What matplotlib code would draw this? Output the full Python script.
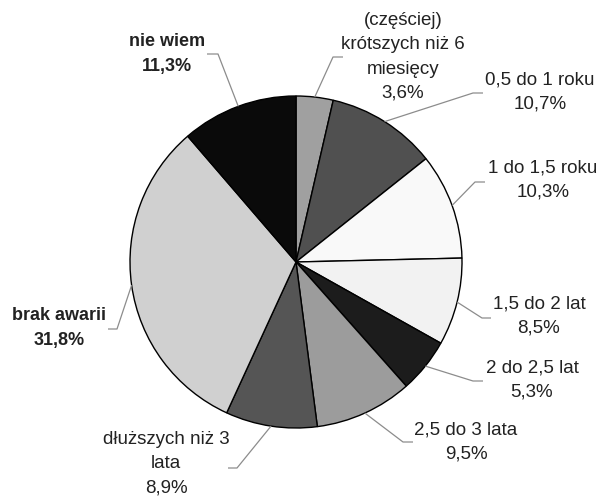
import numpy as np
import matplotlib.pyplot as plt

# udział poszczególnych odpowiedzi (%)
labels = ['(częściej)\nkrótszych niż 6\nmiesięcy', '0,5 do 1 roku', '1 do 1,5 roku',
          '1,5 do 2 lat', '2 do 2,5 lat', '2,5 do 3 lata', 'dłuższych niż 3\nlata',
          'brak awarii', 'nie wiem']
values = [3.6, 10.7, 10.3, 8.5, 5.3, 9.5, 8.9, 31.8, 11.3]
colors = ['#a0a0a0', '#505050', '#f9f9f9', '#f2f2f2', '#1c1c1c', '#9c9c9c',
          '#555555', '#d0d0d0', '#0a0a0a']
bold = [False, False, False, False, False, False, False, True, True]

# położenie podpisów w pikselach: środek tekstu, załamanie linii, koniec linii
text_xy = [(403, 57), (540, 92), (543, 180), (539, 316), (532, 380),
           (466, 442), (166, 464), (59, 328), (167, 54)]
knee_xy = [(333, 57), (473, 93), (475, 182), (482, 318), (473, 381),
           (403, 442), (237, 468), (117, 329), (218, 54)]
end_x = [343, 483, 485, 491, 483, 413, 228, 108, 207]

W, H = 598, 498
cx, cy, R = 296, 262, 166

plt.rcParams['font.family'] = ['Liberation Sans', 'DejaVu Sans']
fig = plt.figure(figsize=(W / 100, H / 100), dpi=100)
ax = fig.add_axes([0, 0, 1, 1])

wedges, _ = ax.pie(values, colors=colors, startangle=90, counterclock=False,
                   center=(cx, H - cy), radius=R, normalize=True,
                   wedgeprops=dict(edgecolor='black', linewidth=1.0))
ax.set_xlim(0, W)
ax.set_ylim(0, H)
ax.set_aspect('equal')
ax.axis('off')

for w, lab, v, (tx, ty), (kx, ky), ex, b in zip(wedges, labels, values, text_xy,
                                               knee_xy, end_x, bold):
    ang = np.deg2rad((w.theta1 + w.theta2) / 2)
    sx = cx + R * np.cos(ang)
    sy = (H - cy) + R * np.sin(ang)
    ax.plot([sx, kx, ex], [sy, H - ky, H - ky], color='#8c8c8c', lw=0.9,
            solid_capstyle='butt')
    txt = lab + '\n' + f'{v:.1f}%'.replace('.', ',')
    ax.text(tx, H - ty, txt, ha='center', va='center',
            fontsize=13 if b else 13.5, linespacing=1.55, color='#222222',
            fontweight='bold' if b else 'normal')

fig.savefig('out.png', dpi=100)
